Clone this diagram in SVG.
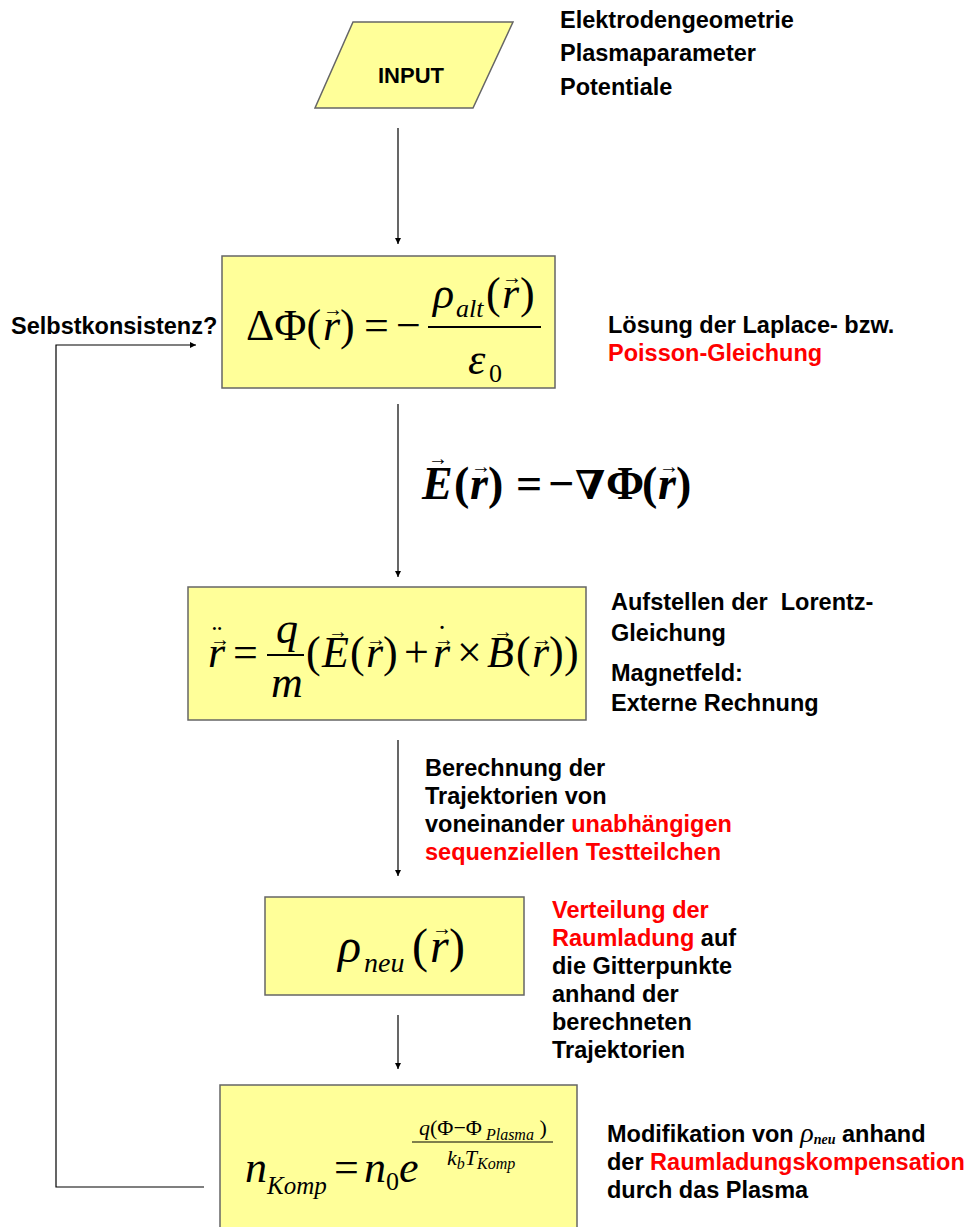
<svg xmlns="http://www.w3.org/2000/svg" width="968" height="1227" viewBox="0 0 968 1227">
<defs>
<marker id="ah" viewBox="0 0 10 10" refX="10" refY="5" markerWidth="7" markerHeight="6" markerUnits="userSpaceOnUse" orient="auto">
<path d="M0,0 L10,5 L0,10 z" fill="#000"/>
</marker>
<style>
.box{fill:#FFFF99;stroke:#666;stroke-width:1.5}
.lbl{font-family:"Liberation Sans",Arial,sans-serif;font-weight:bold;font-size:23.5px;fill:#000}
.red{fill:#FF0000}
.m{font-family:"Liberation Serif","Times New Roman",serif;font-size:44px;fill:#000}
.i{font-style:italic}
.sub{font-size:26px}
.vec{font-family:"Liberation Serif","DejaVu Serif",serif;font-size:20px;fill:#000}
.con{stroke:#000;stroke-width:1.2;fill:none}
.fr{stroke:#000;stroke-width:2}
</style>
</defs>
<rect width="968" height="1227" fill="#fff"/>

<g id="connectors">
<line class="con" x1="398" y1="128" x2="398" y2="244" marker-end="url(#ah)"/>
<line class="con" x1="398" y1="404" x2="398" y2="577" marker-end="url(#ah)"/>
<line class="con" x1="398" y1="740" x2="398" y2="876" marker-end="url(#ah)"/>
<line class="con" x1="398" y1="1015" x2="398" y2="1069" marker-end="url(#ah)"/>
<polyline class="con" points="204,1187 56,1187 56,345 196,345" marker-end="url(#ah)"/>
</g>

<g id="input">
<polygon points="353,22 513,22 473,108 315,108" fill="#FFFF99" stroke="#666" stroke-width="1.5"/>
<text x="411" y="83" text-anchor="middle" font-family="Liberation Sans,Arial,sans-serif" font-weight="bold" font-size="22">INPUT</text>
</g>
<g id="input-text">
<text class="lbl" x="560" y="28">Elektrodengeometrie</text>
<text class="lbl" x="560" y="61">Plasmaparameter</text>
<text class="lbl" x="560" y="95">Potentiale</text>
</g>

<g id="poisson">
<rect class="box" x="222" y="256" width="333" height="132"/>
<text class="m" y="340"><tspan x="246">ΔΦ(</tspan><tspan class="i" x="323">r</tspan><tspan x="340">)</tspan><tspan x="364">=</tspan><tspan x="396">−</tspan></text>
<text class="vec" x="323" y="316">→</text>
<line class="fr" x1="428" y1="327" x2="541" y2="327"/>
<text class="m" y="308"><tspan class="i" x="433">ρ</tspan><tspan class="i sub" x="456" dy="9">alt</tspan><tspan x="486" dy="-9">(</tspan><tspan class="i" x="502">r</tspan><tspan x="520">)</tspan></text>
<text class="vec" x="502" y="284">→</text>
<text class="m" y="374"><tspan class="i" x="468">ε</tspan><tspan class="sub" x="489" dy="8">0</tspan></text>
</g>
<g id="poisson-text">
<text class="lbl" x="608" y="333">Lösung der Laplace- bzw.</text>
<text class="lbl red" x="608" y="361">Poisson-Gleichung</text>
<text class="lbl" x="11" y="334">Selbstkonsistenz?</text>
</g>

<g id="efield">
<text class="m" style="font-size:46px;font-weight:bold" y="499"><tspan class="i" x="422">E</tspan><tspan x="454">(</tspan><tspan class="i" x="470">r</tspan><tspan x="488">)</tspan><tspan x="516">=</tspan><tspan x="548">−</tspan><tspan x="575" font-family="DejaVu Serif,serif" font-size="40">∇</tspan><tspan x="606">Φ</tspan><tspan x="642">(</tspan><tspan class="i" x="658">r</tspan><tspan x="676">)</tspan></text>
<text class="vec" font-weight="bold" x="428" y="465">→</text>
<text class="vec" font-weight="bold" x="471" y="473">→</text>
<text class="vec" font-weight="bold" x="659" y="473">→</text>
</g>

<g id="lorentz">
<rect class="box" x="188" y="587" width="398" height="133"/>
<text class="m" y="667"><tspan class="i" x="208">r</tspan><tspan x="233">=</tspan><tspan x="306">(</tspan><tspan class="i" x="322">E</tspan><tspan x="350">(</tspan><tspan class="i" x="366">r</tspan><tspan x="383">)</tspan><tspan x="404">+</tspan><tspan class="i" x="433">r</tspan><tspan x="457">×</tspan><tspan class="i" x="487">B</tspan><tspan x="516">(</tspan><tspan class="i" x="532">r</tspan><tspan x="549">)</tspan><tspan x="564">)</tspan></text>
<text class="vec" x="210" y="646">→</text>
<text class="m" style="font-size:30px" x="212" y="646">¨</text>
<text class="vec" x="328" y="638">→</text>
<text class="vec" x="366" y="646">→</text>
<text class="vec" x="434" y="646">→</text>
<text class="m" style="font-size:30px" x="437" y="646">˙</text>
<text class="vec" x="493" y="638">→</text>
<text class="vec" x="532" y="646">→</text>
<line class="fr" x1="267" y1="655" x2="304" y2="655"/>
<text class="m i" x="276" y="643">q</text>
<text class="m i" x="271" y="697">m</text>
</g>
<g id="lorentz-text">
<text class="lbl" x="611" y="610" xml:space="preserve">Aufstellen der  Lorentz-</text>
<text class="lbl" x="611" y="641">Gleichung</text>
<text class="lbl" x="611" y="681">Magnetfeld:</text>
<text class="lbl" x="611" y="711">Externe Rechnung</text>
</g>

<g id="traj-text">
<text class="lbl" x="425" y="776">Berechnung der</text>
<text class="lbl" x="425" y="804">Trajektorien von</text>
<text class="lbl" x="425" y="832">voneinander <tspan class="red">unabhängigen</tspan></text>
<text class="lbl red" x="425" y="860">sequenziellen Testteilchen</text>
</g>

<g id="rhoneu">
<rect class="box" x="265" y="897" width="259" height="98"/>
<text class="m" style="font-size:48px" y="962"><tspan class="i" x="338">ρ</tspan><tspan class="i" font-size="28" x="364" dy="10">neu</tspan><tspan x="412" dy="-10">(</tspan><tspan class="i" x="430">r</tspan><tspan x="449">)</tspan></text>
<text class="vec" x="432" y="935">→</text>
</g>
<g id="rhoneu-text">
<text class="lbl red" x="552" y="918">Verteilung der</text>
<text class="lbl" x="552" y="946"><tspan class="red">Raumladung</tspan> auf</text>
<text class="lbl" x="552" y="974">die Gitterpunkte</text>
<text class="lbl" x="552" y="1002">anhand der</text>
<text class="lbl" x="552" y="1030">berechneten</text>
<text class="lbl" x="552" y="1058">Trajektorien</text>
</g>

<g id="kompensation">
<rect class="box" x="220" y="1085" width="357" height="160"/>
<text class="m" y="1182"><tspan class="i" x="245">n</tspan><tspan class="i" font-size="25" x="267" dy="12">Komp</tspan><tspan x="334" dy="-12">=</tspan><tspan class="i" x="364">n</tspan><tspan font-size="26" x="386" dy="8">0</tspan><tspan class="i" x="399" dy="-8">e</tspan></text>
<text class="m" style="font-size:22px" y="1135"><tspan class="i" x="419">q</tspan><tspan>(Φ−Φ</tspan><tspan class="i" font-size="16" dy="5"> Plasma</tspan><tspan dy="-5"> )</tspan></text>
<line x1="412" y1="1142" x2="553" y2="1142" stroke="#000" stroke-width="1.2"/>
<text class="m" style="font-size:22px" y="1165"><tspan class="i" x="447">k</tspan><tspan class="i" font-size="16" dy="4">b</tspan><tspan class="i" dy="-4">T</tspan><tspan class="i" font-size="16" dy="4">Komp</tspan></text>
</g>
<g id="kompensation-text">
<text class="lbl" x="607" y="1142">Modifikation von <tspan font-family="Liberation Serif,serif" font-style="italic" font-weight="normal" font-size="28">ρ</tspan><tspan font-family="Liberation Serif,serif" font-style="italic" font-size="14" dy="2">neu</tspan><tspan dy="-2"> anhand</tspan></text>
<text class="lbl" x="607" y="1170">der <tspan class="red">Raumladungskompensation</tspan></text>
<text class="lbl" x="607" y="1198">durch das Plasma</text>
</g>
</svg>
